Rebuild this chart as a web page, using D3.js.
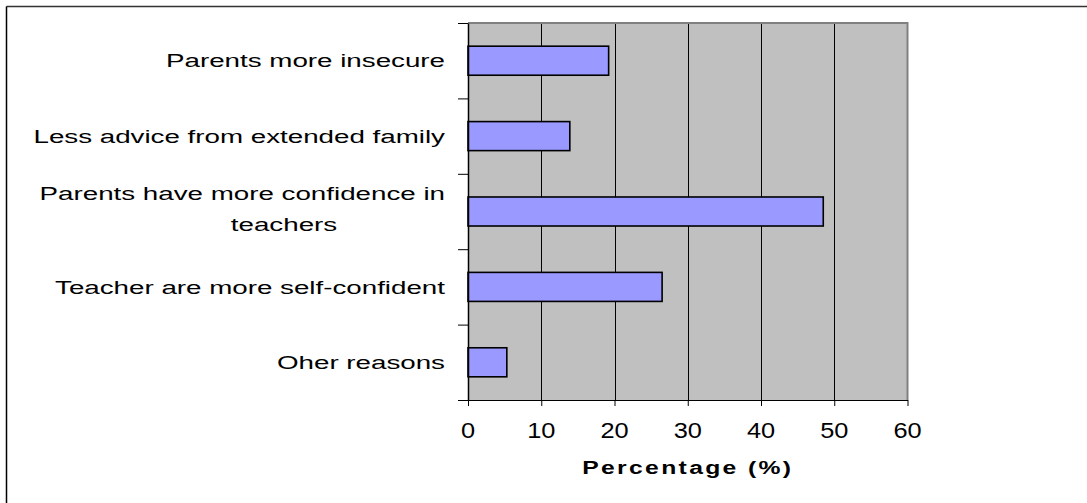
<!DOCTYPE html>
<html>
<head>
<meta charset="utf-8">
<script src="https://cdn.jsdelivr.net/npm/d3@7"></script>
<style>
  html, body { margin: 0; padding: 0; background: #fff; }
  svg { display: block; font-family: "Liberation Sans", Arial, sans-serif; }
</style>
</head>
<body>
<svg id="chart" width="1087" height="503"></svg>
<script>
// Reasons given, in display order (top to bottom)
const categories = [
  "Parents more insecure",
  "Less advice from extended family",
  "Parents have more confidence in teachers",
  "Teacher are more self-confident",
  "Oher reasons"
];
// Share of respondents (%) per reason
const percentages = [19.2, 13.9, 48.5, 26.5, 5.3];
// Wrapped category labels as drawn
const labelLines = [
  ["Parents more insecure"],
  ["Less advice from extended family"],
  ["Parents have more confidence in", "teachers"],
  ["Teacher are more self-confident"],
  ["Oher reasons"]
];
const xTicks = [0, 10, 20, 30, 40, 50, 60];
const xTitle = "Percentage (%)";

const svg = d3.select("#chart");
const plot = { left: 468, right: 907.5, top: 23, bottom: 400 };

// Outer frame (top and left edges)
svg.append("line").attr("x1", 6.5).attr("x2", 1087).attr("y1", 6.5).attr("y2", 6.5)
  .attr("stroke", "#333").attr("stroke-width", 1.5);
svg.append("line").attr("x1", 6.5).attr("x2", 6.5).attr("y1", 6.5).attr("y2", 503)
  .attr("stroke", "#000").attr("stroke-width", 1.5);

const x = d3.scaleLinear().domain([0, 60]).range([plot.left, plot.right]);
const y = d3.scaleBand().domain(categories).range([plot.top, plot.bottom])
  .paddingInner(0.615).paddingOuter(0.3075);
const yEdge = d3.scaleLinear().domain([0, categories.length]).range([plot.top, plot.bottom]);

// Plot background
svg.append("rect")
  .attr("x", plot.left).attr("y", plot.top)
  .attr("width", plot.right - plot.left).attr("height", plot.bottom - plot.top)
  .attr("fill", "#C0C0C0");

// Vertical gridlines
svg.append("g").selectAll("line")
  .data(xTicks.filter(d => d > 0 && d < 60))
  .join("line")
  .attr("x1", d => Math.round(x(d)) + 0.5).attr("x2", d => Math.round(x(d)) + 0.5)
  .attr("y1", plot.top).attr("y2", plot.bottom)
  .attr("stroke", "#000").attr("stroke-width", 1);

// Plot border: grey top and right
svg.append("path")
  .attr("d", `M${plot.left},${plot.top} H${plot.right} V${plot.bottom}`)
  .attr("fill", "none").attr("stroke", "#808080").attr("stroke-width", 2);

// Bars
svg.append("g").selectAll("rect")
  .data(categories)
  .join("rect")
  .attr("x", x(0))
  .attr("y", d => y(d))
  .attr("width", (d, i) => x(percentages[i]) - x(0))
  .attr("height", y.bandwidth())
  .attr("fill", "#9999FF")
  .attr("stroke", "#000")
  .attr("stroke-width", 1.6);

// Bottom axis
const xAxis = svg.append("g")
  .attr("transform", `translate(0,${plot.bottom})`)
  .call(d3.axisBottom(x).tickValues(xTicks).tickSize(6).tickSizeOuter(0).tickFormat(""));
xAxis.select(".domain").attr("stroke", "#000");
xAxis.selectAll(".tick line").attr("stroke", "#000");

// Tick labels, horizontally widened
svg.append("g").selectAll("text")
  .data(xTicks)
  .join("text")
  .attr("transform", d => `translate(${x(d)},${plot.bottom + 38}) scale(1.18,1)`)
  .attr("text-anchor", "middle")
  .attr("font-size", 21.5)
  .attr("fill", "#000")
  .text(d => d);

// Left axis with ticks at category boundaries
const yAxis = svg.append("g")
  .attr("transform", `translate(${plot.left},0)`)
  .call(d3.axisLeft(yEdge).tickValues(d3.range(categories.length + 1)).tickSize(10).tickSizeOuter(0).tickFormat(""));
yAxis.select(".domain").attr("stroke", "#000").attr("stroke-width", 1.5);
yAxis.selectAll(".tick line").attr("stroke", "#000");

// Category labels
const lineGap = 31;
const labelG = svg.append("g").selectAll("g")
  .data(categories)
  .join("g")
  .attr("transform", d => `translate(${plot.left - 23},${y(d) + y.bandwidth() / 2})`);
labelG.each(function(d, i) {
  const lines = labelLines[i];
  const g = d3.select(this);
  const y0 = -(lines.length - 1) * lineGap / 2 - (lines.length - 1) * 3;
  lines.forEach((ln, j) => {
    const t = g.append("text")
      .attr("font-size", 19)
      .attr("fill", "#000")
      .attr("dominant-baseline", "central")
      .text(ln);
    if (j === 0) {
      t.attr("text-anchor", "end")
       .attr("transform", `translate(0,${y0}) scale(1.46,1)`);
    } else {
      t.attr("text-anchor", "middle")
       .attr("transform", `translate(-161,${y0 + j * lineGap}) scale(1.46,1)`);
    }
  });
});

// Axis title
svg.append("text")
  .attr("transform", `translate(${(plot.left + plot.right) / 2},${plot.bottom + 74}) scale(1.3,1)`)
  .attr("text-anchor", "middle")
  .attr("font-size", 19)
  .attr("font-weight", "bold")
  .attr("letter-spacing", 1.8)
  .attr("fill", "#000")
  .text(xTitle);
</script>
</body>
</html>
